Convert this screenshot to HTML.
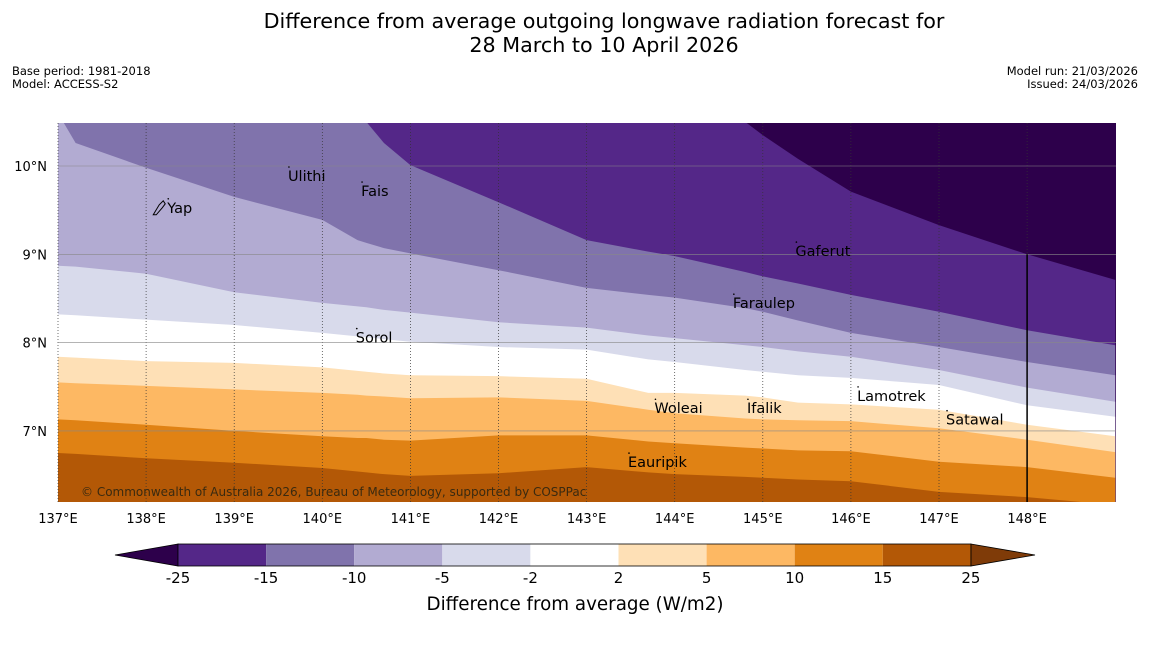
<!DOCTYPE html>
<html><head><meta charset="utf-8">
<style>
body{margin:0;background:#fff;font-family:"DejaVu Sans","Liberation Sans",sans-serif;}
svg text{font-family:"DejaVu Sans","Liberation Sans",sans-serif;}
</style></head>
<body>
<svg id="c" width="1150" height="644" viewBox="0 0 1150 644" xmlns="http://www.w3.org/2000/svg">
<text x="604" y="28" font-size="20.7" text-anchor="middle">Difference from average outgoing longwave radiation forecast for</text>
<text x="604" y="52" font-size="20.7" text-anchor="middle">28 March to 10 April 2026</text>
<text x="12" y="75" font-size="11.5">Base period: 1981-2018</text>
<text x="12" y="88" font-size="11.5">Model: ACCESS-S2</text>
<text x="1138" y="75" font-size="11.5" text-anchor="end">Model run: 21/03/2026</text>
<text x="1138" y="88" font-size="11.5" text-anchor="end">Issued: 24/03/2026</text>
<defs><clipPath id="pc"><rect x="58" y="123" width="1058" height="379"/></clipPath></defs>
<g id="plot" clip-path="url(#pc)"></g>
<g id="overlay"></g>
<g id="cbar"></g>
<text x="575" y="610" font-size="18.3" text-anchor="middle">Difference from average (W/m2)</text>
</svg>
<script>
const lons=[137,137.2,138,139,140,140.4,140.5,140.7,141,142,143,143.7,144,144.8,145,145.4,146,147,148,149];
const bA=[10.7,10.7,10.7,10.7,10.7,10.7,10.7,10.7,10.7,10.7,10.7,10.7,10.7,10.5,10.35,10.08,9.71,9.33,9.0,8.71];
const bB=[10.7,10.7,10.7,10.7,10.7,10.7,10.5,10.26,10.01,9.59,9.16,9.03,8.98,8.8,8.75,8.67,8.54,8.35,8.14,7.97];
const bC=[10.6,10.26,9.98,9.65,9.39,9.16,9.13,9.07,9.01,8.82,8.62,8.54,8.51,8.39,8.35,8.25,8.11,7.95,7.78,7.63];
const bD=[8.87,8.86,8.78,8.57,8.45,8.41,8.4,8.37,8.34,8.23,8.17,8.08,8.05,7.97,7.95,7.9,7.84,7.69,7.49,7.33];
const bE=[8.32,8.31,8.26,8.2,8.11,8.07,8.06,8.04,8.01,7.95,7.92,7.81,7.78,7.69,7.67,7.63,7.6,7.52,7.29,7.16];
const bF=[7.84,7.83,7.79,7.77,7.72,7.68,7.67,7.65,7.63,7.62,7.59,7.43,7.43,7.4,7.38,7.32,7.3,7.24,7.07,6.94];
const bG=[7.55,7.54,7.51,7.47,7.43,7.41,7.4,7.39,7.37,7.38,7.34,7.24,7.2,7.14,7.13,7.12,7.11,7.03,6.9,6.76];
const bH=[7.13,7.12,7.07,7.0,6.94,6.92,6.92,6.9,6.89,6.95,6.95,6.88,6.86,6.81,6.8,6.78,6.77,6.65,6.59,6.47];
const bI=[6.75,6.74,6.69,6.64,6.58,6.54,6.53,6.51,6.49,6.52,6.59,6.53,6.51,6.48,6.47,6.45,6.43,6.31,6.25,6.16];
const levels=["-25","-15","-10","-5","-2","2","5","10","15","25"];
const colors=["#542788","#8073ac","#b2abd2","#d8daeb","#ffffff","#fee0b6","#fdb863","#e08214","#b35806"];
const lonTicks=[137,138,139,140,141,142,143,144,145,146,147,148];
const latTicks=[7,8,9,10];
const places=[["Yap",138.24,9.47],["Ulithi",139.61,9.83],["Fais",140.44,9.66],["Gaferut",145.37,8.98],["Faraulep",144.66,8.39],["Sorol",140.38,8.0],["Woleai",143.77,7.2],["Ifalik",144.82,7.2],["Lamotrek",146.07,7.34],["Satawal",147.08,7.07],["Eauripik",143.47,6.59]];
const NS="http://www.w3.org/2000/svg";
const X=l=>58+(l-137)*88.1, Y=a=>166-(a-10)*88.3;
function mk(t,at,p){const e=document.createElementNS(NS,t);for(const k in at)e.setAttribute(k,at[k]);p.appendChild(e);return e;}
const plot=document.getElementById('plot');
mk('rect',{x:58,y:123,width:1058,height:379,fill:'#2d004b'},plot);
const bounds=[bA,bB,bC,bD,bE,bF,bG,bH,bI];
bounds.forEach((b,i)=>{
 let d='M'+X(lons[0])+','+Y(b[0]);
 lons.forEach((l,j)=>{d+=' L'+X(l)+','+Y(b[j]);});
 d+=' L'+X(149)+',520 L'+X(137)+',520 Z';
 const p=mk('path',{d:d,fill:colors[i]},plot);
 
 
});
const ov=document.getElementById('overlay');
lonTicks.forEach(l=>{
 const g=mk('line',{x1:X(l),x2:X(l),y1:123,y2:502,stroke:'#333','stroke-width':0.7,'stroke-dasharray':'1,2'},ov);
 
 
 const t=mk('text',{x:X(l),y:523,'font-size':13,'text-anchor':'middle'},ov);t.textContent=l+'°E';
 
 
});
latTicks.forEach(a=>{
 const g=mk('line',{x1:58,x2:1116,y1:Y(a),y2:Y(a),stroke:'#888','stroke-width':0.6},ov);
 
 
 const t=mk('text',{x:47,y:Y(a)+5,'font-size':13,'text-anchor':'end'},ov);t.textContent=a+'°N';
 
 
});
const v=mk('line',{x1:X(148),x2:X(148),y1:Y(9),y2:502,stroke:'#000','stroke-width':1.5},ov);


places.forEach(p=>{
 const t=mk('text',{x:X(p[1]),y:Y(p[2]),'font-size':14.5},ov);t.textContent=p[0];
 
 
 const d=mk('circle',{cx:X(p[1])+1,cy:Y(p[2])-14,r:0.8,fill:'#000'},ov);
 
 
});
const isl=mk('path',{d:`M${X(138.24)-14},${Y(9.47)+2} l6,-10 l4,-4 l2,3 l-3,4 l-6,7 z`,fill:'none',stroke:'#000','stroke-width':1},ov);


const cr=mk('text',{x:81,y:496,'font-size':12,fill:'#3a2a10'},ov);cr.textContent='© Commonwealth of Australia 2026, Bureau of Meteorology, supported by COSPPac';


const cb=document.getElementById('cbar');
const cx0=178,cw=88.1,cy=544,ch=22;
mk('polygon',{points:`${cx0},${cy} 115,${cy+ch/2} ${cx0},${cy+ch}`,fill:'#2d004b',stroke:'#000','stroke-width':0.8},cb);
const rEnd=cx0+cw*colors.length;
mk('polygon',{points:`${rEnd},${cy} 1035,${cy+ch/2} ${rEnd},${cy+ch}`,fill:'#7f3b08',stroke:'#000','stroke-width':0.8},cb);
colors.forEach((c,i)=>{
 const r=mk('rect',{x:cx0+i*cw,y:cy,width:cw,height:ch,fill:c},cb);
 
 
});
mk('rect',{x:cx0,y:cy,width:cw*colors.length,height:ch,fill:'none',stroke:'#000','stroke-width':0.8},cb);
levels.forEach((l,i)=>{
 const t=mk('text',{x:cx0+i*cw,y:583,'font-size':15,'text-anchor':'middle'},cb);t.textContent=l;
 
 
});
</script>
</body></html>
